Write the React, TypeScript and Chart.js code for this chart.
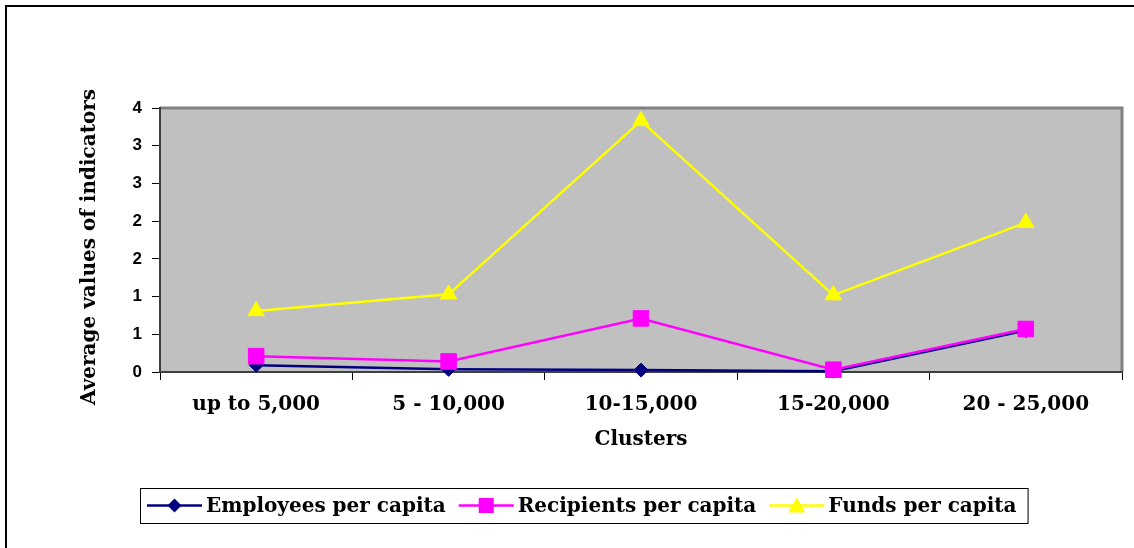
import { useEffect, useRef } from 'react';
import { Chart, registerables } from 'chart.js';

Chart.register(...registerables);

const categories = ['up to 5,000', '5 - 10,000', '10-15,000', '15-20,000', '20 - 25,000'];
const employeesPerCapita = [0.09, 0.035, 0.025, 0.01, 0.55];
const recipientsPerCapita = [0.21, 0.14, 0.71, 0.03, 0.57];
const fundsPerCapita = [0.81, 1.03, 3.33, 1.02, 1.98];
const yTickLabels = ['0', '1', '1', '2', '2', '3', '3', '4'];
const seriesNames = ['Employees per capita', 'Recipients per capita', 'Funds per capita'];
const xTitle = 'Clusters';
const yTitle = 'Average values of indicators  ';

const SERIF = '"DejaVu Serif", serif';
const SANS = '"Liberation Sans", Arial, sans-serif';

function drawMarker(ctx: CanvasRenderingContext2D, style: string, x: number, y: number, color: string) {
  ctx.fillStyle = color;
  ctx.beginPath();
  if (style === 'rectRot') {
    const r = 7;
    ctx.moveTo(x, y - r);
    ctx.lineTo(x + r, y);
    ctx.lineTo(x, y + r);
    ctx.lineTo(x - r, y);
  } else if (style === 'rect') {
    const s = 7.5;
    ctx.rect(x - s, y - s, 2 * s, 2 * s);
  } else {
    ctx.moveTo(x, y - 8);
    ctx.lineTo(x + 8.5, y + 7);
    ctx.lineTo(x - 8.5, y + 7);
  }
  ctx.closePath();
  ctx.fill();
}

export default function App() {
  const ref = useRef<HTMLCanvasElement>(null);

  useEffect(() => {
    document.documentElement.style.margin = '0';
    document.body.style.margin = '0';
    document.body.style.overflow = 'hidden';
    const canvas = ref.current;
    if (!canvas) return;

    const framePlugin = {
      id: 'frame',
      beforeDraw(chart: any) {
        const { ctx, chartArea: a } = chart;
        ctx.save();
        ctx.fillStyle = '#ffffff';
        ctx.fillRect(0, 0, chart.width, chart.height);
        ctx.strokeStyle = '#000000';
        ctx.lineWidth = 2;
        ctx.beginPath();
        ctx.moveTo(6, chart.height);
        ctx.lineTo(6, 6);
        ctx.lineTo(chart.width, 6);
        ctx.stroke();
        ctx.fillStyle = '#C0C0C0';
        ctx.fillRect(a.left, a.top, a.right - a.left, a.bottom - a.top);
        ctx.strokeStyle = '#808080';
        ctx.lineWidth = 3;
        ctx.beginPath();
        ctx.moveTo(a.left, a.top);
        ctx.lineTo(a.right, a.top);
        ctx.lineTo(a.right, a.bottom);
        ctx.stroke();
        ctx.restore();
      },
    };

    const legendPlugin = {
      id: 'lineLegend',
      afterDraw(chart: any) {
        const ctx: CanvasRenderingContext2D = chart.ctx;
        ctx.save();
        ctx.font = `bold 20px ${SERIF}`;
        const lineLen = 55;
        const gapText = 4;
        const gapItem = 13;
        const padL = 7;
        const padR = 11;
        const items = chart.data.datasets.map((ds: any) => ({
          label: ds.label as string,
          color: ds.borderColor as string,
          style: ds.pointStyle as string,
          w: ctx.measureText(ds.label).width,
        }));
        const contentW =
          items.reduce((s: number, it: any) => s + lineLen + gapText + it.w, 0) + gapItem * (items.length - 1);
        const boxW = contentW + padL + padR;
        const cx = 583.5;
        const boxTop = 488;
        const boxH = 35;
        const boxLeft = Math.round(cx - boxW / 2);
        ctx.fillStyle = '#ffffff';
        ctx.fillRect(boxLeft, boxTop, boxW, boxH);
        ctx.strokeStyle = '#000000';
        ctx.lineWidth = 1;
        ctx.strokeRect(boxLeft + 0.5, boxTop + 0.5, boxW, boxH);
        const cy = boxTop + boxH / 2;
        let x = boxLeft + padL;
        items.forEach((it: any) => {
          ctx.strokeStyle = it.color;
          ctx.lineWidth = 2.5;
          ctx.beginPath();
          ctx.moveTo(x, cy);
          ctx.lineTo(x + lineLen, cy);
          ctx.stroke();
          drawMarker(ctx, it.style, x + lineLen / 2, cy, it.color);
          x += lineLen + gapText;
          ctx.fillStyle = '#000000';
          ctx.textAlign = 'left';
          ctx.textBaseline = 'middle';
          ctx.fillText(it.label, x, cy + 1);
          x += it.w + gapItem;
        });
        ctx.restore();
      },
    };

    const chart = new Chart(canvas, {
      type: 'line',
      data: {
        labels: categories,
        datasets: [
          {
            label: seriesNames[0],
            data: employeesPerCapita,
            borderColor: '#000080',
            backgroundColor: '#000080',
            borderWidth: 2.5,
            pointStyle: 'rectRot',
            pointRadius: 7,
            pointBorderWidth: 1,
            tension: 0,
            clip: false,
            order: 2,
          },
          {
            label: seriesNames[1],
            data: recipientsPerCapita,
            borderColor: '#FF00FF',
            backgroundColor: '#FF00FF',
            borderWidth: 2.5,
            pointStyle: 'rect',
            pointRadius: 11,
            pointBorderWidth: 1,
            tension: 0,
            clip: false,
            order: 1,
          },
          {
            label: seriesNames[2],
            data: fundsPerCapita,
            borderColor: '#FFFF00',
            backgroundColor: '#FFFF00',
            borderWidth: 2.5,
            pointStyle: 'triangle',
            pointRadius: 9.5,
            pointBorderWidth: 1,
            tension: 0,
            clip: false,
            order: 0,
          },
        ],
      },
      options: {
        animation: false,
        responsive: false,
        events: [],
        layout: { padding: { top: 108, right: 6, bottom: 0, left: 0 } },
        plugins: {
          legend: { display: false },
          tooltip: { enabled: false },
        },
        scales: {
          x: {
            type: 'category',
            offset: true,
            grid: {
              offset: true,
              drawOnChartArea: false,
              drawTicks: true,
              tickLength: 8,
              color: '#000000',
              lineWidth: 1,
            },
            border: { display: true, color: '#404040', width: 2 },
            ticks: {
              color: '#000000',
              font: { family: SERIF, weight: 'bold', size: 20 },
              padding: 13,
              maxRotation: 0,
              autoSkip: false,
            },
            title: {
              display: true,
              text: xTitle,
              color: '#000000',
              font: { family: SERIF, weight: 'bold', size: 20 },
              padding: { top: 0, bottom: 96 },
            },
            afterFit(scale: any) {
              scale.height = 176;
            },
          },
          y: {
            min: 0,
            max: 3.5,
            ticks: {
              stepSize: 0.5,
              callback: (_v: any, i: number) => yTickLabels[i],
              color: '#000000',
              font: { family: SANS, weight: 'bold', size: 17 },
              padding: 10,
            },
            grid: {
              drawOnChartArea: false,
              drawTicks: true,
              tickLength: 8,
              color: '#000000',
            },
            border: { display: true, color: '#404040', width: 2 },
            title: {
              display: true,
              text: yTitle,
              color: '#000000',
              font: { family: SERIF, weight: 'bold', size: 20 },
              padding: { top: 78, bottom: 0 },
            },
            afterFit(scale: any) {
              scale.width = 160;
            },
          },
        },
      },
      plugins: [framePlugin, legendPlugin],
    } as any);

    return () => chart.destroy();
  }, []);

  return (
    <div style={{ width: 1134, height: 548, overflow: 'hidden' }}>
      <canvas ref={ref} width={1134} height={548} style={{ display: 'block', width: 1134, height: 548 }} />
    </div>
  );
}
